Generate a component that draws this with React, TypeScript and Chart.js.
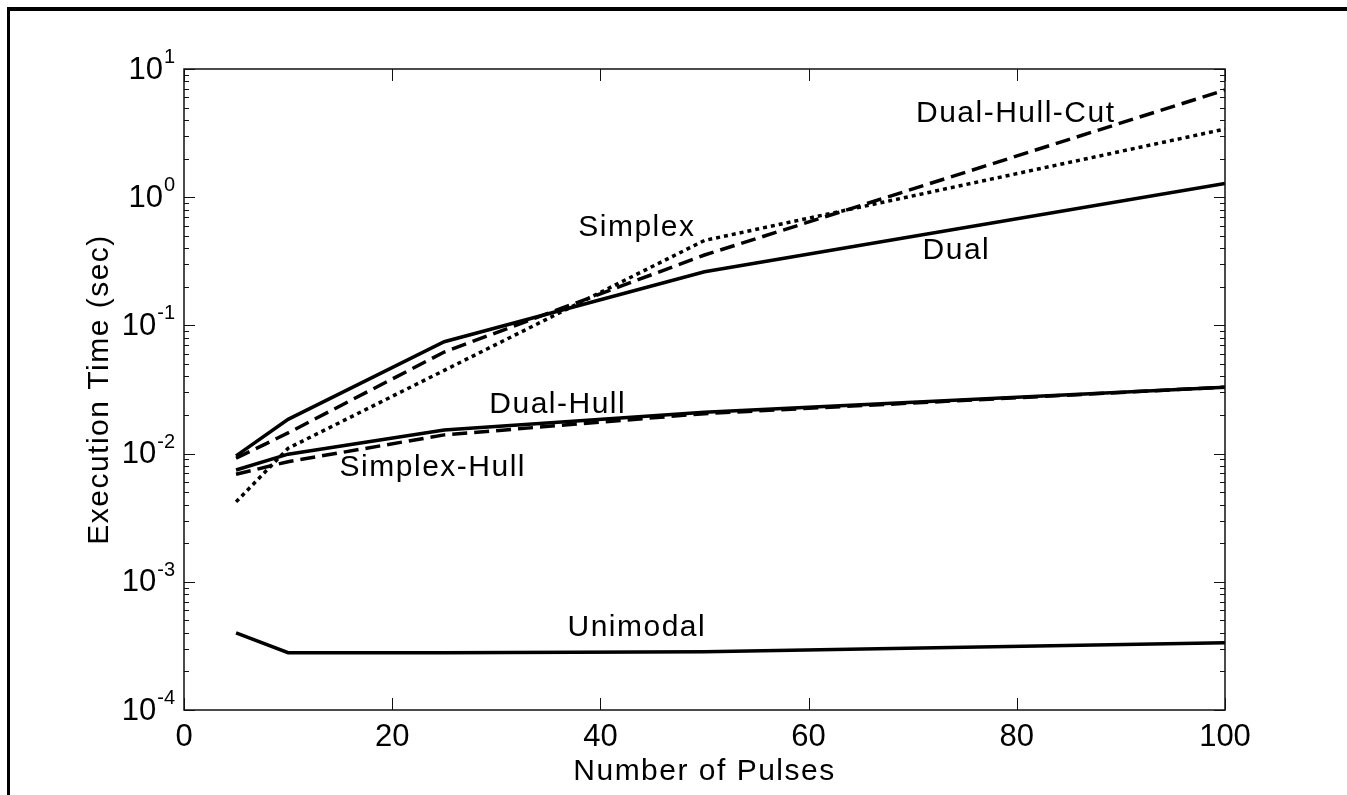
import React, { useEffect, useRef } from "react";
import { Chart, registerables } from "chart.js";

Chart.register(...registerables);

// ---- data ----
const pulses = [5, 10, 25, 50, 100];
const dual = [0.0096, 0.0185, 0.0746, 0.262, 1.28];
const dualHullCut = [0.0092, 0.0145, 0.062, 0.354, 6.86];
const simplex = [0.0042, 0.011, 0.0446, 0.46, 3.4];
const dualHull = [0.00745, 0.0099, 0.0153, 0.021, 0.033];
const simplexHull = [0.0069, 0.00865, 0.014, 0.0205, 0.033];
const unimodal = [0.0004, 0.00028, 0.00028, 0.000285, 0.000335];

const xTicks = [0, 20, 40, 60, 80, 100];
const yExponents = [-4, -3, -2, -1, 0, 1];

const labelTexts = ["Dual-Hull-Cut", "Dual", "Simplex", "Dual-Hull", "Simplex-Hull", "Unimodal"];
const labelX = [79.9, 74.2, 43.5, 35.9, 23.9, 43.5];
const labelY = [4.46, 0.38, 0.575, 0.0239, 0.00772, 0.000436];

const xTitle = "Number of Pulses";
const yTitle = "Execution Time (sec)";

const W = 1347;
const H = 795;
const FONT = "'Liberation Sans', Arial, Helvetica, sans-serif";

const toPts = (ys: number[]) => pulses.map((x, i) => ({ x, y: ys[i] }));

const overlay = {
  id: "matlabOverlay",
  beforeDraw(chart: any) {
    const ctx = chart.ctx;
    ctx.save();
    ctx.fillStyle = "#ffffff";
    ctx.fillRect(0, 0, chart.width, chart.height);
    ctx.fillStyle = "#000000";
    ctx.fillRect(7, 7, 3, chart.height - 7);
    ctx.fillRect(7, 7, chart.width - 7, 4);
    ctx.restore();
  },
  afterDraw(chart: any) {
    const ctx = chart.ctx;
    const a = chart.chartArea;
    const xs = chart.scales.x;
    const ys = chart.scales.y;
    ctx.save();
    // box
    ctx.strokeStyle = "#111";
    ctx.lineWidth = 1.5;
    ctx.strokeRect(a.left, a.top, a.right - a.left, a.bottom - a.top);

    // ticks
    ctx.lineWidth = 1;
    ctx.beginPath();
    for (const t of xTicks) {
      const px = Math.round(xs.getPixelForValue(t)) + 0.5;
      ctx.moveTo(px, a.bottom);
      ctx.lineTo(px, a.bottom - 12);
      ctx.moveTo(px, a.top);
      ctx.lineTo(px, a.top + 12);
    }
    for (const e of yExponents) {
      const base = Math.pow(10, e);
      const py = Math.round(ys.getPixelForValue(base)) + 0.5;
      ctx.moveTo(a.left, py);
      ctx.lineTo(a.left + 11, py);
      ctx.moveTo(a.right, py);
      ctx.lineTo(a.right - 11, py);
      if (e < 1) {
        for (let k = 2; k <= 9; k++) {
          const my = Math.round(ys.getPixelForValue(k * base)) + 0.5;
          ctx.moveTo(a.left, my);
          ctx.lineTo(a.left + 5, my);
          ctx.moveTo(a.right, my);
          ctx.lineTo(a.right - 5, my);
        }
      }
    }
    ctx.stroke();

    ctx.fillStyle = "#000";
    // x tick labels
    ctx.font = `31px ${FONT}`;
    ctx.textAlign = "center";
    ctx.textBaseline = "middle";
    for (const t of xTicks) {
      ctx.fillText(String(t), xs.getPixelForValue(t), a.bottom + 27);
    }
    // y tick labels 10^n
    for (const e of yExponents) {
      const py = ys.getPixelForValue(Math.pow(10, e));
      const sup = String(e);
      ctx.font = `20px ${FONT}`;
      const sw = ctx.measureText(sup).width;
      const xEnd = a.left - 9;
      ctx.textAlign = "left";
      ctx.textBaseline = "alphabetic";
      ctx.fillText(sup, xEnd - sw, py - 6);
      ctx.font = `31px ${FONT}`;
      ctx.textAlign = "right";
      ctx.textBaseline = "middle";
      ctx.fillText("10", xEnd - sw - 1, py + 1);
    }

    // titles and annotations
    try {
      (ctx as any).letterSpacing = "1.5px";
    } catch (err) {}
    ctx.font = `30px ${FONT}`;
    ctx.textAlign = "center";
    ctx.textBaseline = "middle";
    ctx.fillText(xTitle, (a.left + a.right) / 2, a.bottom + 62);
    ctx.save();
    ctx.translate(100, (a.top + a.bottom) / 2);
    ctx.rotate(-Math.PI / 2);
    ctx.fillText(yTitle, 0, 0);
    ctx.restore();
    labelTexts.forEach((t, i) => {
      ctx.fillText(t, xs.getPixelForValue(labelX[i]), ys.getPixelForValue(labelY[i]));
    });
    ctx.restore();
  },
};

export default function App() {
  const ref = useRef<HTMLCanvasElement | null>(null);
  useEffect(() => {
    if (!ref.current) return;
    const base = {
      borderColor: "#000",
      backgroundColor: "#000",
      borderWidth: 3.5,
      pointRadius: 0,
      tension: 0,
      fill: false,
      borderCapStyle: "butt",
      borderJoinStyle: "miter",
    };
    const chart = new Chart(ref.current, {
      type: "line",
      data: {
        datasets: [
          { ...base, label: "Dual", data: toPts(dual) },
          { ...base, label: "Dual-Hull-Cut", data: toPts(dualHullCut), borderDash: [15, 7] },
          { ...base, label: "Simplex", data: toPts(simplex), borderDash: [4, 4] },
          { ...base, label: "Dual-Hull", data: toPts(dualHull) },
          { ...base, label: "Simplex-Hull", data: toPts(simplexHull), borderDash: [15, 7] },
          { ...base, label: "Unimodal", data: toPts(unimodal) },
        ] as any,
      },
      options: {
        responsive: false,
        animation: false,
        events: [],
        layout: { padding: { left: 0, top: 69, right: W - 1225, bottom: 0 }, autoPadding: false } as any,
        plugins: { legend: { display: false }, tooltip: { enabled: false } },
        scales: {
          x: {
            type: "linear",
            min: 0,
            max: 100,
            grid: { display: false, drawTicks: false },
            border: { display: false },
            ticks: { display: false },
            afterFit: (s: any) => {
              s.height = H - 710;
            },
          },
          y: {
            type: "logarithmic",
            min: 1e-4,
            max: 10,
            grid: { display: false, drawTicks: false },
            border: { display: false },
            ticks: { display: false },
            afterFit: (s: any) => {
              s.width = 184;
            },
          },
        },
      } as any,
      plugins: [overlay],
    });
    return () => chart.destroy();
  }, []);
  return (
    <div style={{ position: "fixed", left: 0, top: 0, width: W, height: H, background: "#fff", overflow: "hidden" }}>
      <canvas ref={ref} width={W} height={H} style={{ display: "block", width: W, height: H }} />
    </div>
  );
}
